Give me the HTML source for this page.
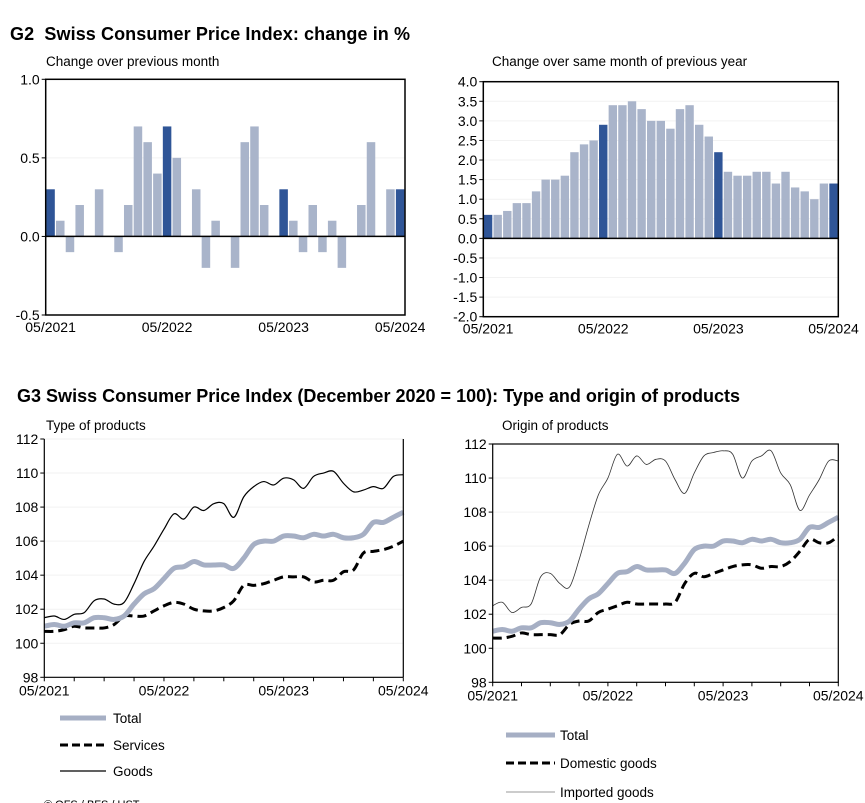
<!DOCTYPE html>
<html><head><meta charset="utf-8"><style>
html,body{margin:0;padding:0;background:#fff;}
svg{display:block;font-family:"Liberation Sans",Arial,sans-serif;}
</style></head><body>
<svg id="c" width="865" height="803" viewBox="0 0 865 803" xmlns="http://www.w3.org/2000/svg">
<text x="10" y="40" font-size="18" font-weight="bold" fill="#000" textLength="400" xml:space="preserve">G2  Swiss Consumer Price Index: change in %</text>
<text x="46" y="66" font-size="13.5">Change over previous month</text>
<text x="492" y="66" font-size="13.5">Change over same month of previous year</text>
<text x="17" y="402" font-size="18" font-weight="bold" textLength="723">G3 Swiss Consumer Price Index (December 2020 = 100): Type and origin of products</text>
<text x="46" y="430" font-size="13.5">Type of products</text>
<text x="502" y="430" font-size="13.5">Origin of products</text>
<g id="legend-left">
<line x1="60" y1="718" x2="106" y2="718" stroke="#A6AFC4" stroke-width="5"/>
<text x="113" y="723" font-size="13.5">Total</text>
<line x1="60" y1="745" x2="106" y2="745" stroke="#000" stroke-width="3" stroke-dasharray="8,4"/>
<text x="113" y="750" font-size="13.5">Services</text>
<line x1="60" y1="771" x2="106" y2="771" stroke="#000" stroke-width="1.2"/>
<text x="113" y="776" font-size="13.5">Goods</text>
</g>
<g id="legend-right">
<line x1="506" y1="735" x2="555" y2="735" stroke="#A6AFC4" stroke-width="5"/>
<text x="560" y="740" font-size="13.5">Total</text>
<line x1="506" y1="763" x2="555" y2="763" stroke="#000" stroke-width="3" stroke-dasharray="8,4"/>
<text x="560" y="768" font-size="13.5">Domestic goods</text>
<line x1="506" y1="792" x2="555" y2="792" stroke="#999" stroke-width="1"/>
<text x="560" y="797" font-size="13.5">Imported goods</text>
</g>
<text x="44" y="808" font-size="11">© OFS / BFS / UST</text>
</svg>
<script>
const months = ["05/2021","06/2021","07/2021","08/2021","09/2021","10/2021","11/2021","12/2021","01/2022","02/2022","03/2022","04/2022","05/2022","06/2022","07/2022","08/2022","09/2022","10/2022","11/2022","12/2022","01/2023","02/2023","03/2023","04/2023","05/2023","06/2023","07/2023","08/2023","09/2023","10/2023","11/2023","12/2023","01/2024","02/2024","03/2024","04/2024","05/2024"];
const xLabels = ["05/2021","05/2022","05/2023","05/2024"];
const momValues = [0.3,0.1,-0.1,0.2,0,0.3,0,-0.1,0.2,0.7,0.6,0.4,0.7,0.5,0,0.3,-0.2,0.1,0,-0.2,0.6,0.7,0.2,0,0.3,0.1,-0.1,0.2,-0.1,0.1,-0.2,0,0.2,0.6,0,0.3,0.3];
const yoyValues = [0.6,0.6,0.7,0.9,0.9,1.2,1.5,1.5,1.6,2.2,2.4,2.5,2.9,3.4,3.4,3.5,3.3,3.0,3.0,2.8,3.3,3.4,2.9,2.6,2.2,1.7,1.6,1.6,1.7,1.7,1.4,1.7,1.3,1.2,1.0,1.4,1.4];
const momTicks = ["1.0","0.5","0.0","-0.5"];
const yoyTicks = ["4.0","3.5","3.0","2.5","2.0","1.5","1.0","0.5","0.0","-0.5","-1.0","-1.5","-2.0"];
const idxTicks = ["112","110","108","106","104","102","100","98"];
const totalIdx = [101.0,101.1,101.0,101.2,101.2,101.5,101.5,101.4,101.6,102.3,102.9,103.2,103.8,104.4,104.5,104.8,104.6,104.6,104.6,104.4,105.0,105.8,106.0,106.0,106.3,106.3,106.2,106.4,106.3,106.4,106.2,106.2,106.4,107.1,107.1,107.4,107.7];
const servicesIdx = [100.7,100.7,100.8,101.0,100.9,100.9,100.9,101.1,101.6,101.6,101.6,101.9,102.2,102.4,102.3,102.0,101.9,101.9,102.1,102.5,103.4,103.4,103.5,103.7,103.9,103.9,103.9,103.6,103.7,103.7,104.2,104.3,105.3,105.4,105.5,105.7,106.0];
const goodsIdx = [101.5,101.6,101.4,101.7,101.8,102.5,102.6,102.3,102.4,103.5,104.8,105.7,106.7,107.6,107.3,108.0,107.8,108.2,108.2,107.4,108.6,109.2,109.5,109.3,109.7,109.6,109.1,109.8,110.0,110.1,109.4,108.9,109.0,109.2,109.1,109.8,109.9];
const domesticIdx = [100.6,100.6,100.7,100.9,100.8,100.8,100.8,100.8,101.4,101.6,101.6,102.1,102.3,102.5,102.7,102.6,102.6,102.6,102.6,102.7,103.8,104.4,104.2,104.4,104.6,104.8,104.9,104.9,104.7,104.8,104.8,105.1,105.7,106.4,106.2,106.2,106.6];
const importedIdx = [102.5,102.7,102.1,102.4,102.6,104.2,104.4,103.8,103.6,105.2,107.2,109.0,110.0,111.4,110.7,111.3,110.8,111.1,111.0,109.9,109.1,110.3,111.3,111.5,111.6,111.4,110.0,111.0,111.3,111.6,110.3,109.6,108.1,109.0,109.9,111.0,111.0];

const svg = document.getElementById('c');
const NS = "http://www.w3.org/2000/svg";
function mk(tag, attrs, parent){ const e=document.createElementNS(NS,tag); for(const k in attrs) e.setAttribute(k,attrs[k]); (parent||svg).appendChild(e); return e; }

function frame(name, x0,x1,y0,y1, ticks, vmax, vmin){
  const g = mk('g',{});
  
  
  const ys = v => y0 + (vmax - v)/(vmax - vmin)*(y1-y0);
  ticks.forEach(t=>{
    const v=parseFloat(t), y=ys(v);
    mk('line',{x1:x0,x2:x1,y1:y,y2:y,stroke:'#f2f2f2','stroke-width':1},g);
    mk('line',{x1:x0-4,x2:x0,y1:y,y2:y,stroke:'#000'},g);
    const tx = mk('text',{x:x0-6,y:y+5,'font-size':14,'text-anchor':'end'},g);
    tx.textContent=t;
    
    
  });
  return {g, ys};
}
function xAxis(g,x0,x1,y1,n,labY,ticks){
  const xs = i => x0 + i*(x1-x0)/(n-1);
  xLabels.forEach((l,k)=>{
    const t=mk('text',{x:xs(k*12),y:labY,'font-size':14,'text-anchor':'middle'},g);
    t.textContent=l;
    
    
  });
  if(ticks){ for(let i=0;i<n;i+=3){ mk('line',{x1:xs(i),x2:xs(i),y1:y1,y2:y1+4,stroke:'#000'},g);} }
}
function barChart(name, values, ticks, vmax, vmin, x0,x1,y0,y1){
  const f=frame(name,x0,x1,y0,y1,ticks,vmax,vmin);
  const n=values.length, w=(x1-x0)/n;
  const zero=f.ys(0);
  values.forEach((v,i)=>{
    const dark = (i%12===0);
    const top=Math.min(f.ys(v),zero), h=Math.abs(f.ys(v)-zero);
    const r=mk('rect',{x:x0+i*w+0.6,y:top,width:w-1.2,height:h,fill:dark?'#2F5597':'#A9B4CA'},f.g);
    
    
  });
  mk('line',{x1:x0,x2:x1,y1:zero,y2:zero,stroke:'#000','stroke-width':1.5},f.g);
  mk('rect',{x:x0,y:y0,width:x1-x0,height:y1-y0,fill:'none',stroke:'#000','stroke-width':1.5},f.g);
  const xs = k => x0 + (k*12+0.5)*w;
  xLabels.forEach((l,k)=>{
    const t=mk('text',{x:xs(k),y:y1+17,'font-size':14,'text-anchor':'middle'},f.g);
    t.textContent=l;
    
    
  });
}
barChart('mom-chart', momValues, momTicks, 1.0, -0.5, 45.7, 405, 79.3, 315);
barChart('yoy-chart', yoyValues, yoyTicks, 4.0, -2.0, 483.3, 838.3, 81.7, 316.7);

function smoothPath(pts){
  let d='M'+pts[0][0]+','+pts[0][1];
  for(let i=0;i<pts.length-1;i++){
    const p0=pts[i-1]||pts[i], p1=pts[i], p2=pts[i+1], p3=pts[i+2]||p2;
    const c1=[p1[0]+(p2[0]-p0[0])/6, p1[1]+(p2[1]-p0[1])/6];
    const c2=[p2[0]-(p3[0]-p1[0])/6, p2[1]-(p3[1]-p1[1])/6];
    d+=' C'+c1[0]+','+c1[1]+' '+c2[0]+','+c2[1]+' '+p2[0]+','+p2[1];
  }
  return d;
}
function lineChart(name, series, x0,x1,y0,y1, box){
  const f=frame(name,x0,x1,y0,y1,idxTicks,112,98);
  const n=months.length;
  const xs = i => x0 + i*(x1-x0)/(n-1);
  series.forEach(s=>{
    const pts=s.vals.map((v,i)=>[xs(i),f.ys(v)]);
    const p=mk('path',Object.assign({d:smoothPath(pts),fill:'none'},s.style),f.g);
    
    
  });
  if(box) mk('rect',{x:x0,y:y0,width:x1-x0,height:y1-y0,fill:'none',stroke:'#000','stroke-width':1.2},f.g);
  else { mk('line',{x1:x0,x2:x0,y1:y0,y2:y1,stroke:'#000','stroke-width':1.2},f.g); mk('line',{x1:x1,x2:x1,y1:y0,y2:y1,stroke:'#000','stroke-width':1.2},f.g); mk('line',{x1:x0,x2:x1,y1:y1,y2:y1,stroke:'#000','stroke-width':1.2},f.g); }
  xAxis(f.g,x0,x1,y1,n,y1+18,true);
}
lineChart('type-chart',[
  {name:'goods-line',vals:goodsIdx,style:{stroke:'#000','stroke-width':1.2}},
  {name:'services-line',vals:servicesIdx,style:{stroke:'#000','stroke-width':3,'stroke-dasharray':'9,5'}},
  {name:'total-line',vals:totalIdx,style:{stroke:'#A6AFC4','stroke-width':5}}
],44.3,403.3,439,677.3,false);
lineChart('origin-chart',[
  {name:'imported-line',vals:importedIdx,style:{stroke:'#333','stroke-width':0.8}},
  {name:'domestic-line',vals:domesticIdx,style:{stroke:'#000','stroke-width':3,'stroke-dasharray':'9,5'}},
  {name:'total-line',vals:totalIdx,style:{stroke:'#A6AFC4','stroke-width':5}}
],492.7,838.3,444,682.3,true);
</script>
</body></html>
